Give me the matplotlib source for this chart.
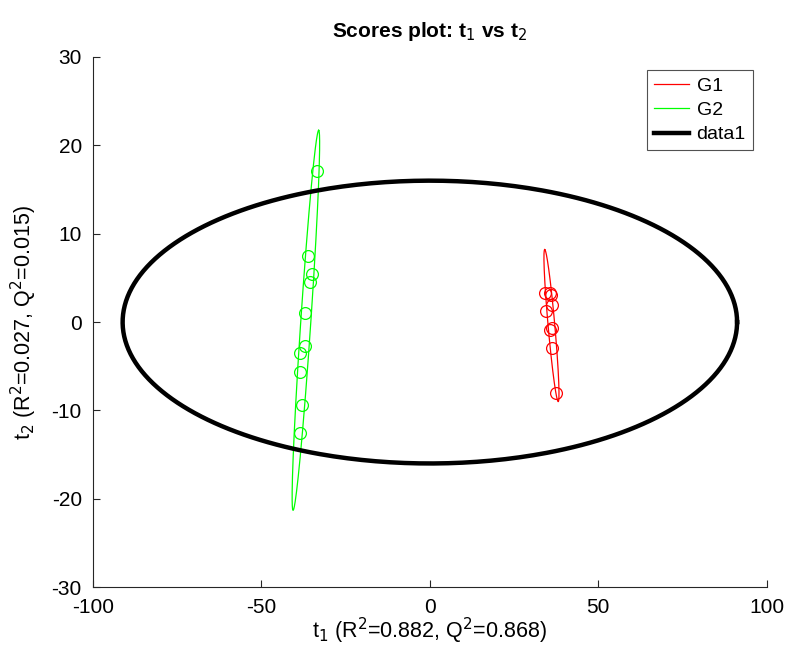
import numpy as np
import matplotlib
matplotlib.use("Agg")
import matplotlib.pyplot as plt

plt.rcParams['font.family'] = ['Liberation Sans', 'DejaVu Sans']
plt.rcParams['axes.unicode_minus'] = False

# Scores on the first two components, per group
g1_t1 = [34.1, 35.6, 36.1, 36.3, 34.4, 36.3, 35.8, 36.3, 37.3]
g1_t2 = [3.25, 3.25, 3.05, 1.9, 1.2, -0.7, -0.9, -2.9, -8.0]
g2_t1 = [-33.6, -36.1, -35.1, -35.6, -37.0, -37.1, -38.4, -38.6, -37.9, -38.4]
g2_t2 = [17.1, 7.5, 5.4, 4.5, 1.05, -2.7, -3.5, -5.7, -9.4, -12.6]

# Group confidence ellipses: centre, offset of the upper tip, half width across
g1_ell = dict(cx=36.1, cy=-0.4, dx=-2.0, dy=8.6, w=1.0)
g2_ell = dict(cx=-36.8, cy=0.2, dx=3.8, dy=21.5, w=1.5)
# Hotelling T2 ellipse for the whole model
t2_a, t2_b = 91.2, 16.0

xticks = [-100, -50, 0, 50, 100]
yticks = [-30, -20, -10, 0, 10, 20, 30]


def ellipse_xy(cx, cy, dx, dy, w, n=300):
    t = np.linspace(0, 2 * np.pi, n)
    x = cx + dx * np.cos(t) + w * np.sin(t)
    y = cy + dy * np.cos(t)
    return x, y


fig = plt.figure(figsize=(7.88, 6.62), dpi=100)
ax = fig.add_axes([0.118, 0.113, 0.855, 0.801])

ax.plot(g1_t1, g1_t2, 'o', mfc='none', mec='red', ms=8.5, mew=0.9)
ax.plot(g2_t1, g2_t2, 'o', mfc='none', mec='#00ff00', ms=8.5, mew=0.9)

x, y = ellipse_xy(**g1_ell)
ax.plot(x, y, color='red', lw=0.9, label='G1')
x, y = ellipse_xy(**g2_ell)
ax.plot(x, y, color='#00ff00', lw=0.9, label='G2')

t = np.linspace(0, 2 * np.pi, 400)
ax.plot(t2_a * np.cos(t), t2_b * np.sin(t), color='black', lw=3.2, label='data1')

ax.set_xlim(-100, 100)
ax.set_ylim(-30, 30)
ax.set_xticks(xticks)
ax.set_yticks(yticks)
ax.tick_params(direction='in', length=5, width=0.8, labelsize=15,
               colors='#262626', pad=8)
for lbl in ax.get_xticklabels() + ax.get_yticklabels():
    lbl.set_color('black')
ax.spines['top'].set_visible(False)
ax.spines['right'].set_visible(False)
for s in ('left', 'bottom'):
    ax.spines[s].set_color('#262626')
    ax.spines[s].set_linewidth(0.8)

ax.set_title('Scores plot: t$_1$ vs t$_2$', fontsize=15, fontweight='bold', pad=14)
ax.set_xlabel('t$_1$ (R$^2$=0.882, Q$^2$=0.868)', fontsize=15.5)
ax.set_ylabel('t$_2$ (R$^2$=0.027, Q$^2$=0.015)', fontsize=15.5)
ax.xaxis.label.set_va('center')
ax.yaxis.label.set_va('center')
ax.xaxis.set_label_coords(0.5, -0.083)
ax.yaxis.set_label_coords(-0.103, 0.5)

leg = ax.legend(loc='upper right', bbox_to_anchor=(0.979, 0.975), fontsize=14,
                fancybox=False, edgecolor='#262626', handlelength=1.8,
                handletextpad=0.4, borderpad=0.35, labelspacing=0.35,
                borderaxespad=0)
leg.get_frame().set_linewidth(0.8)

fig.savefig('out.png', dpi=100)
